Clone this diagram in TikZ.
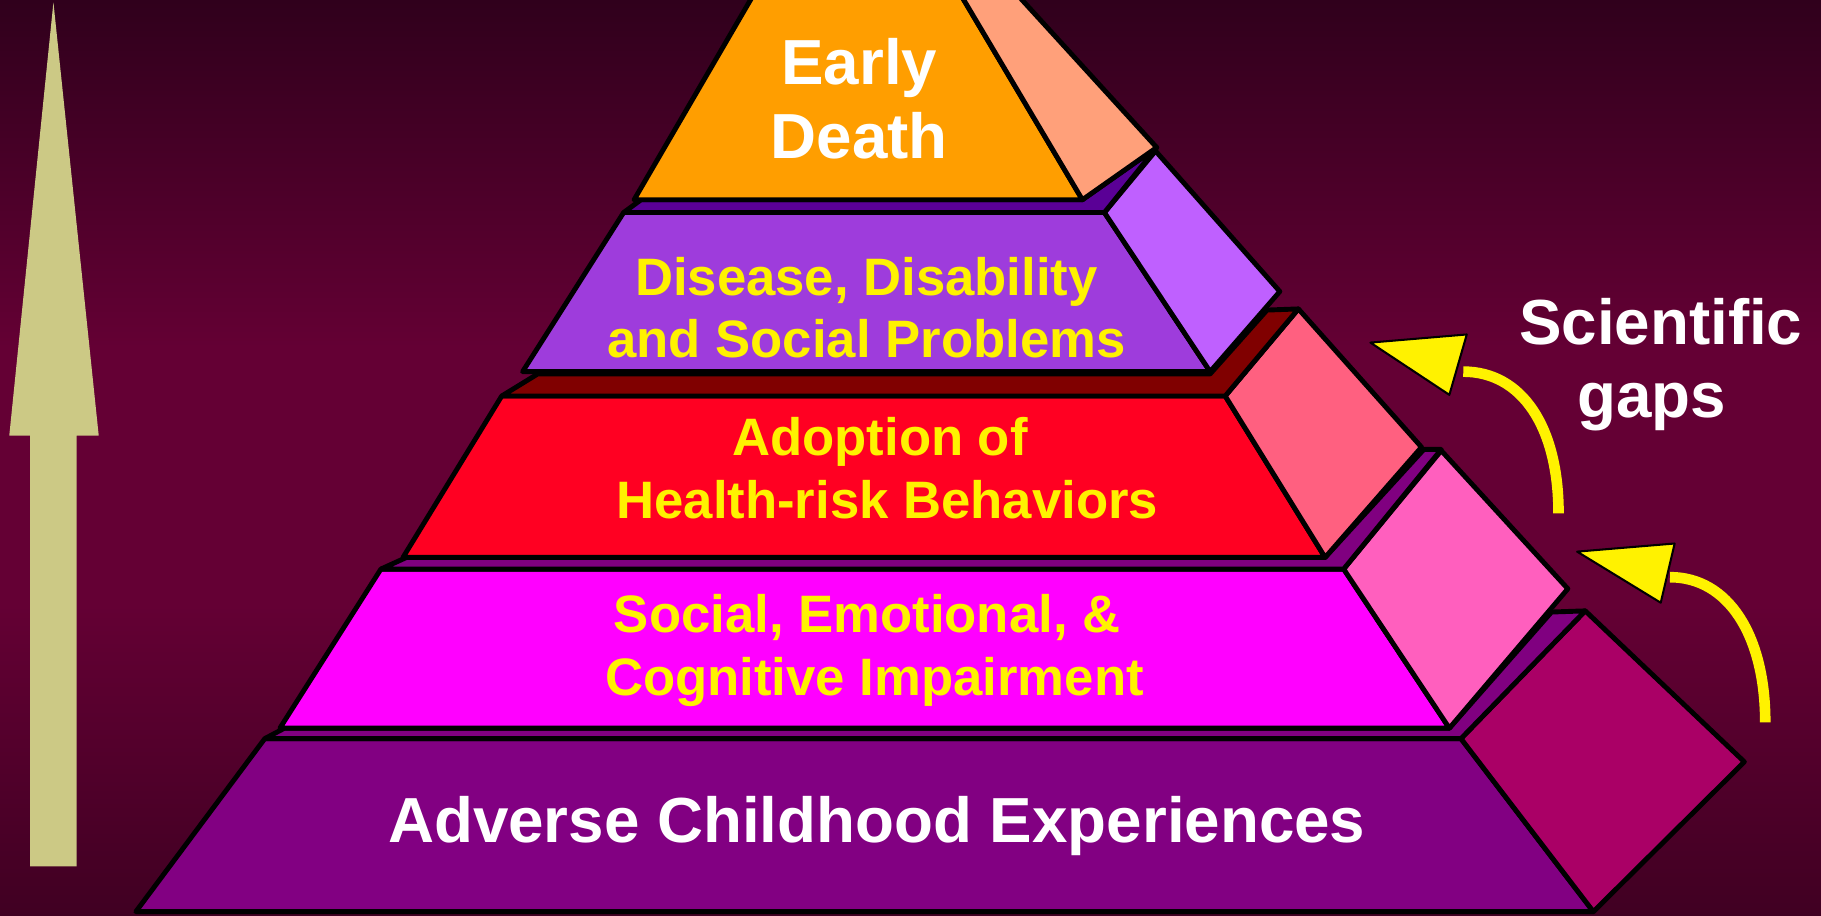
\documentclass[tikz,border=0pt]{standalone}
\usepackage{fontspec}
\setmainfont{Liberation Sans}
\definecolor{bgtop}{RGB}{48,0,28}
\definecolor{bgmid}{RGB}{100,0,52}
\definecolor{bgbot}{RGB}{64,0,34}
\definecolor{upkhaki}{RGB}{204,201,133}
\definecolor{deathorange}{RGB}{255,158,0}
\definecolor{deathside}{RGB}{255,160,122}
\definecolor{violetface}{RGB}{90,0,150}
\definecolor{diseasepurple}{RGB}{158,60,220}
\definecolor{diseaseside}{RGB}{191,96,255}
\definecolor{darkredface}{RGB}{128,0,0}
\definecolor{riskred}{RGB}{255,0,34}
\definecolor{riskside}{RGB}{255,96,128}
\definecolor{purpleface}{RGB}{128,0,128}
\definecolor{impairmagenta}{RGB}{255,0,255}
\definecolor{impairside}{RGB}{255,95,190}
\definecolor{acepurple}{RGB}{130,0,130}
\definecolor{aceside}{RGB}{170,0,102}
\pgfdeclareverticalshading{bgshade}{100bp}{color(0bp)=(bgbot); color(25bp)=(bgbot); color(42bp)=(bgmid); color(56bp)=(bgmid); color(75bp)=(bgtop); color(100bp)=(bgtop)}
\begin{document}
\begin{tikzpicture}[x=0.01cm, y=-0.01cm,
  block/.style={draw=black, line width=1.2pt, line join=round},
  whitetext/.style={text=white, font=\fontsize{15.6}{18}\selectfont\bfseries, align=center},
  yellowtext/.style={text=yellow, font=\fontsize{12.9}{15.3}\selectfont\bfseries, align=center},
  gapcurve/.style={draw=yellow, line width=2.6pt},
  gaphead/.style={fill=yellow, draw=black, line width=0.5pt, line join=round}]
  \useasboundingbox (0,0) rectangle (1568,788);
  % background
  \shade[shading=bgshade] (0cm,-7.88cm) rectangle (15.68cm,0cm);
  % upward arrow
  \fill[upkhaki] (46,2) -- (85,375) -- (66,375) -- (66,746) -- (26,746) -- (26,375) -- (8,375) -- cycle;

  % layer 5: adverse childhood experiences
  \filldraw[block, fill=acepurple] (228,636) -- (1258,636) -- (1372,785) -- (117,785) -- cycle;
  \filldraw[block, fill=aceside] (1258,636) -- (1365,526) -- (1502,656) -- (1372,785) -- cycle;
  \filldraw[block, fill=purpleface] (228,636) -- (245,627) -- (1248,627) -- (1336,527) -- (1365,526) -- (1258,636) -- cycle;

  % layer 4: impairment
  \filldraw[block, fill=impairmagenta] (328,490) -- (1157,490) -- (1248,627) -- (241,627) -- cycle;
  \filldraw[block, fill=impairside] (1157,490) -- (1241,388) -- (1350,507) -- (1248,627) -- cycle;
  \filldraw[block, fill=purpleface] (328,490) -- (350,480) -- (1141,480) -- (1226,387) -- (1241,387) -- (1157,490) -- cycle;

  % layer 3: health-risk behaviors
  \filldraw[block, fill=riskred] (432,341) -- (1055,341) -- (1141,480) -- (347,480) -- cycle;
  \filldraw[block, fill=riskside] (1055,341) -- (1118,266) -- (1224,385) -- (1141,480) -- cycle;
  \filldraw[block, fill=darkredface] (432,341) -- (463,322) -- (1042,322) -- (1091,267) -- (1118,266) -- (1055,341) -- cycle;

  % layer 2: disease
  \filldraw[block, fill=diseasepurple] (537,183) -- (951,183) -- (1042,320) -- (450,320) -- cycle;
  \filldraw[block, fill=diseaseside] (951,183) -- (995,130) -- (1102,251) -- (1042,320) -- cycle;
  \filldraw[block, fill=violetface] (537,183) -- (552,172) -- (932,172) -- (996,127) -- (951,183) -- cycle;

  % layer 1: early death
  \filldraw[block, fill=deathorange] (546,172) -- (932,172) -- (824,-10) -- (652,-10) -- cycle;
  \filldraw[block, fill=deathside] (824,-10) -- (871,-10) -- (996,127) -- (932,172) -- cycle;

  % labels
  \node[whitetext] (death) at (740,85) {Early\\Death};
  \node[yellowtext] (disease) at (746,265) {Disease, Disability\\and Social Problems};
  \node[yellowtext] (risk) at (764,403) {Adoption of\hphantom{\ }\\Health-risk Behaviors};
  \node[yellowtext] (impair) at (753,560) {Social, Emotional, \&\hphantom{\ }\\Cognitive Impairment};
  \node[whitetext] (ace) at (755,711) {Adverse Childhood Experiences};
  \node[whitetext] (gaps) at (1430,314) {Scientific\\gaps\hphantom{i}};

  % scientific gap arrows
  \coordinate (gapAtail) at (1342,442);
  \coordinate (gapAend) at (1260,320);
  \coordinate (gapBtail) at (1520,622);
  \coordinate (gapBend) at (1438,497);
  \draw[gapcurve] (gapAtail) .. controls +(0,-75) and +(50,0) .. (gapAend);
  \draw[gapcurve] (gapBtail) .. controls +(0,-75) and +(50,0) .. (gapBend);
  \filldraw[gaphead] (1180,295) -- (1263,288) -- (1248,340) -- cycle;
  \filldraw[gaphead] (1358,475) -- (1442,468) -- (1430,519) -- cycle;
\end{tikzpicture}
\end{document}
